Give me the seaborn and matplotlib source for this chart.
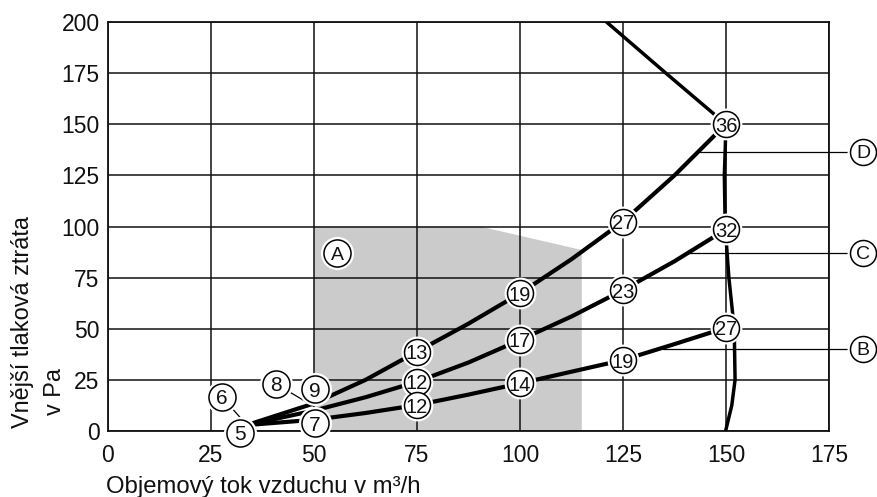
import matplotlib
matplotlib.use("Agg")
import matplotlib.pyplot as plt
import seaborn as sns
import pandas as pd
from matplotlib import font_manager

sns.set_theme(style="white")
plt.rcParams["font.family"] = ["Liberation Sans", "DejaVu Sans"]

# Characteristic curves: air flow (m³/h) vs. external pressure loss (Pa)
flow = [33.7, 50, 62.5, 75, 87.5, 100, 112.5, 125, 137.5, 150]
dp_d = [2.9, 13.5, 25.0, 38.8, 52.5, 67.3, 84.0, 102.4, 125.0, 150.1]
dp_c = [2.9, 10.0, 16.5, 24.1, 33.5, 44.5, 56.0, 68.9, 83.0, 98.6]
dp_b = [2.9, 5.5, 8.8, 12.7, 17.8, 23.3, 29.0, 34.7, 42.5, 50.5]

# Operating limit curve
limit_flow = [121.0, 135.4, 150.0, 149.6, 149.8, 150.7, 152.0, 152.2, 151.4, 149.9]
limit_dp = [200, 175, 150, 125, 100, 75, 50, 25, 12.5, 0]

# Recommended operating range (A)
range_flow = [50, 50, 90.3, 115, 115]
range_dp = [0, 100, 100, 88.5, 0]

# Sound power levels marked on the curves (at flow index)
mark_idx = [3, 5, 7, 9]
noise_d = ["13", "19", "27", "36"]
noise_c = ["12", "17", "23", "32"]
noise_b = ["12", "14", "19", "27"]

# Sound levels at low flow
low_text = ["5", "6", "7", "8", "9"]
low_x = [32.0, 27.6, 50.2, 40.8, 50.2]
low_y = [-0.8, 16.8, 3.7, 23.0, 20.4]

# Curve captions
curve_names = ["B", "C", "D"]
caption_x = 183.3
caption_y = [40.1, 87.2, 136.6]
leader_start = [134.8, 140.0, 143.7]

x_ticks = [0, 25, 50, 75, 100, 125, 150, 175]
y_ticks = [0, 25, 50, 75, 100, 125, 150, 175, 200]

narrow = "Liberation Sans Narrow"
try:
    font_manager.findfont(narrow, fallback_to_default=False)
    num_family = [narrow, "Liberation Sans"]
except Exception:
    num_family = ["Liberation Sans"]

fig = plt.figure(figsize=(8.77, 4.97), dpi=100)
ax = fig.add_axes([108 / 877, 66 / 497, 721 / 877, 409 / 497])

ax.fill(range_flow, range_dp, color="#cbcbcb", lw=0, zorder=0)

ax.set_xlim(0, 175)
ax.set_ylim(0, 200)
ax.set_xticks(x_ticks)
ax.set_yticks(y_ticks)
ax.grid(True, color="#111111", lw=1.1, zorder=1)
ax.set_axisbelow(False)
for sp in ax.spines.values():
    sp.set_color("#111111")
    sp.set_linewidth(1.3)
ax.tick_params(length=0, labelsize=16.5, colors="#111111")
ax.tick_params(axis="x", pad=9)
ax.tick_params(axis="y", pad=6)

curves = pd.DataFrame({
    "flow": flow * 3,
    "dp": dp_b + dp_c + dp_d,
    "curve": ["B"] * len(flow) + ["C"] * len(flow) + ["D"] * len(flow),
})
sns.lineplot(data=curves, x="flow", y="dp", units="curve", estimator=None,
             sort=False, color="black", lw=3.0, ax=ax, zorder=3,
             solid_joinstyle="round", solid_capstyle="round")
limit = pd.DataFrame({"flow": limit_flow, "dp": limit_dp})
sns.lineplot(data=limit, x="flow", y="dp", estimator=None, sort=False,
             color="black", lw=2.5, ax=ax, zorder=3, solid_joinstyle="round")

# leader lines
ax.plot([low_x[1], flow[0]], [low_y[1], dp_d[0]], color="black", lw=0.9, zorder=2.5)
ax.plot([low_x[3], 49.8], [low_y[3], 12.2], color="black", lw=0.9, zorder=2.5)
for y, x0 in zip(caption_y, leader_start):
    ax.plot([x0, caption_x], [y, y], color="black", lw=0.9, zorder=2.5,
            clip_on=False)


def badge(x, y, text, size=13, family=None, s=330, clip=True):
    ax.scatter([x], [y], s=s * 1.5, color="white", lw=0, zorder=4,
               clip_on=clip)
    ax.scatter([x], [y], s=s, facecolor="white", edgecolor="black",
               lw=1.1, zorder=5, clip_on=clip)
    ax.text(x, y, text, ha="center", va="center_baseline", fontsize=size,
            color="#111111", zorder=6, clip_on=False,
            family=family or ["Liberation Sans"])


for dp, labels in ((dp_d, noise_d), (dp_c, noise_c), (dp_b, noise_b)):
    for i, t in zip(mark_idx, labels):
        badge(flow[i], dp[i], t, size=14.5, family=num_family, s=350)

for x, y, t in zip(low_x, low_y, low_text):
    badge(x, y, t, size=15, s=380, clip=False)

badge(55.7, 86.9, "A", size=14, s=380)
for y, t in zip(caption_y, curve_names):
    badge(caption_x, y, t, size=14, s=350, clip=False)

ax.set_xlabel("")
ax.set_ylabel("")
fig.text(106 / 877, 4 / 497, "Objemový tok vzduchu v m³/h", fontsize=17.2,
         color="#111111", ha="left", va="baseline")
fig.text(11 / 877, 69 / 497, "Vnější tlaková ztráta", fontsize=16.9,
         color="#111111", rotation=90, ha="left", va="bottom")
fig.text(43 / 877, 82 / 497, "v Pa", fontsize=16.9,
         color="#111111", rotation=90, ha="left", va="bottom")

fig.savefig("out.png", dpi=100)
